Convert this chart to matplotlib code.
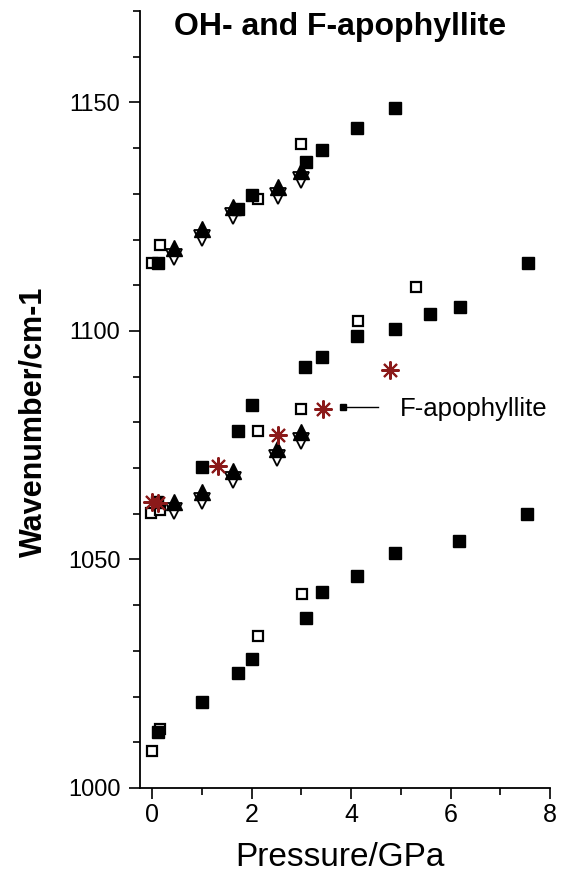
import matplotlib
matplotlib.use('Agg')
import matplotlib.pyplot as plt
from matplotlib.ticker import MultipleLocator

plt.rcParams['font.family'] = ['Liberation Sans', 'DejaVu Sans']

# OH-apophyllite, filled squares (three bands)
sq_p_hi = [0.12, 1.73, 2.01, 3.10, 3.42, 4.12, 4.88]
sq_w_hi = [1114.8, 1126.6, 1129.7, 1137.0, 1139.5, 1144.3, 1148.7]
sq_p_mid = [0.10, 1.00, 1.73, 2.01, 3.08, 3.42, 4.12, 4.88, 5.59, 6.19, 7.56]
sq_w_mid = [1062.5, 1070.3, 1078.0, 1083.9, 1092.2, 1094.4, 1098.8, 1100.5, 1103.8, 1105.3, 1114.8]
sq_p_lo = [0.11, 1.00, 1.73, 2.01, 3.10, 3.42, 4.12, 4.88, 6.17, 7.54]
sq_w_lo = [1012.3, 1018.9, 1025.1, 1028.2, 1037.2, 1042.9, 1046.4, 1051.5, 1054.1, 1060.0]

# open squares
osq_p = [0.00, 0.16, 2.13, 2.99, -0.03, 0.16, 2.13, 3.00, 4.14, 5.31, 0.00, 0.16, 2.13, 3.01]
osq_w = [1114.8, 1118.9, 1128.8, 1141.0, 1060.2, 1060.9, 1078.0, 1083.0, 1102.1, 1109.7,
         1008.1, 1012.9, 1033.3, 1042.5]

# filled up-triangles / open down-triangles
tri_p = [0.43, 1.00, 1.63, 2.53, 2.99, 0.43, 1.00, 1.63, 2.51, 3.00]
tri_w = [1118.2, 1122.4, 1127.2, 1131.6, 1135.1, 1062.6, 1064.8, 1069.4, 1074.2, 1077.9]
dtri_w = [1116.2, 1120.4, 1125.2, 1129.6, 1133.1, 1060.6, 1062.8, 1067.4, 1072.2, 1075.9]

# F-apophyllite
f_p = [0.00, 0.12, 1.33, 2.53, 3.43, 4.78]
f_w = [1062.6, 1062.4, 1070.5, 1077.3, 1083.0, 1091.5]

fig = plt.figure(figsize=(5.62, 8.73), dpi=100)
ax = fig.add_axes([0.249, 0.0974, 0.7295, 0.890])

for p, w in [(sq_p_hi, sq_w_hi), (sq_p_mid, sq_w_mid), (sq_p_lo, sq_w_lo)]:
    ax.plot(p, w, 's', color='black', markersize=8, zorder=4)
ax.plot(osq_p, osq_w, 's', mfc='white', mec='black', mew=1.6, markersize=7.5, zorder=3)
ax.plot(tri_p, dtri_w, 'v', mfc='white', mec='black', mew=1.3, markersize=11, zorder=2)
ax.plot(tri_p, tri_w, '^', color='black', markersize=11, zorder=2.5)
ax.plot(f_p, f_w, marker=(8, 2, 0), ls='none', color='#8b1a1a', mew=1.5, markersize=13, zorder=5)

# label pointer
ax.plot([3.84, 4.54], [1083.4, 1083.4], color='black', lw=1.0, marker='s',
        markersize=4, markevery=[0])
ax.text(4.98, 1083.0, 'F-apophyllite', fontsize=18.5, va='center', ha='left')

ax.set_xlim(-0.25, 8.0)
ax.set_ylim(1000, 1170)
ax.xaxis.set_major_locator(MultipleLocator(2))
ax.xaxis.set_minor_locator(MultipleLocator(1))
ax.yaxis.set_major_locator(MultipleLocator(50))
ax.yaxis.set_minor_locator(MultipleLocator(10))
ax.spines['top'].set_visible(False)
ax.spines['right'].set_visible(False)
ax.spines['left'].set_linewidth(1.3)
ax.spines['bottom'].set_linewidth(1.3)
ax.tick_params(which='major', length=8, width=1.2, direction='out')
ax.tick_params(which='minor', length=5, width=1.2, direction='out')
ax.tick_params(axis='x', labelsize=18, pad=3)
ax.tick_params(axis='y', labelsize=17, pad=6)

fig.text(0.605, 0.96, 'OH- and F-apophyllite', fontsize=23, fontweight='bold',
         ha='center', va='baseline')
fig.text(0.06, 0.5166, 'Wavenumber/cm-1', fontsize=22, fontweight='bold',
         rotation=90, ha='center', va='center')
fig.text(0.605, 0.008, 'Pressure/GPa', fontsize=24, ha='center', va='baseline')

fig.savefig('out.png', dpi=100)
